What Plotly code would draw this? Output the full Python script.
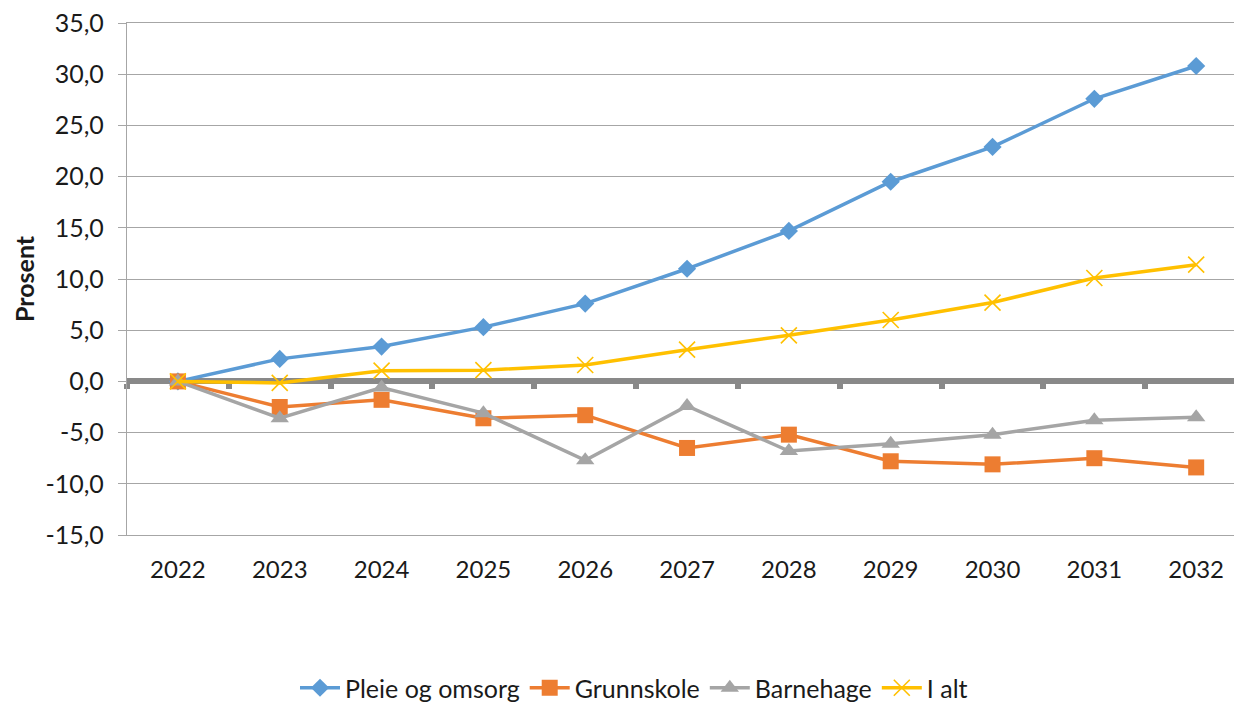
import plotly.graph_objects as go

years = ["2022", "2023", "2024", "2025", "2026", "2027", "2028", "2029", "2030", "2031", "2032"]
pleie = [0.0, 2.2, 3.4, 5.3, 7.6, 11.0, 14.7, 19.5, 22.9, 27.6, 30.8]
grunnskole = [0.0, -2.5, -1.8, -3.6, -3.3, -6.5, -5.2, -7.8, -8.1, -7.5, -8.4]
barnehage = [0.0, -3.6, -0.6, -3.1, -7.7, -2.4, -6.8, -6.1, -5.2, -3.8, -3.5]
i_alt = [0.0, -0.15, 1.05, 1.1, 1.6, 3.1, 4.5, 6.0, 7.7, 10.1, 11.4]

y_ticks = [-15, -10, -5, 0, 5, 10, 15, 20, 25, 30, 35]
y_range = [-15, 35.001]
y_labels = [f"{v:.1f}".replace(".", ",") for v in y_ticks]

FONT = "Lato"
TXT = "#1a1a1a"

fig = go.Figure()
series = [
    ("Pleie og omsorg", pleie, "#5B9BD5", "diamond", 14, 0),
    ("Grunnskole", grunnskole, "#ED7D31", "square", 16, 0),
    ("Barnehage", barnehage, "#A5A5A5", "triangle-up", 16, 0),
    ("I alt", i_alt, "#FFC000", "x-thin", 16, 1.6),
]
for name, vals, col, sym, size, lw in series:
    fig.add_trace(go.Scatter(
        x=years, y=vals, name=name, mode="lines+markers",
        line=dict(color=col, width=3.5),
        marker=dict(symbol=sym, size=size, color=col,
                    line=dict(color=col, width=lw)),
        cliponaxis=False,
    ))

zero_pos = (0 - y_range[0]) / (y_range[1] - y_range[0])
boundaries = [i - 0.5 for i in range(len(years) + 1)]

W, H = 1234, 694
L, T, B = 119, 15, 167
plot_w = W - L

fig.update_layout(
    width=W, height=H,
    margin=dict(l=L, r=0, t=T, b=B, autoexpand=False),
    paper_bgcolor="white", plot_bgcolor="white",
    font=dict(family=FONT, size=24, color=TXT),
    showlegend=True,
    legend=dict(orientation="h", xref="container", yref="container",
                x=(634 - 8) / W, xanchor="center",
                y=1 - (688 - 8) / H, yanchor="middle",
                font=dict(family=FONT, size=25, color=TXT), itemwidth=40,
                traceorder="normal"),
    xaxis=dict(type="category", range=[-0.5, 10.45], showgrid=False, zeroline=False,
               showline=True, mirror=True, linecolor="#A6A6A6", linewidth=1.3,
               ticks="outside", ticklen=13, tickcolor="rgba(0,0,0,0)",
               tickfont=dict(family=FONT, size=24, color=TXT)),
    xaxis2=dict(overlaying="x", anchor="free", position=zero_pos, side="bottom",
                type="linear", range=[-0.5, 10.45], showgrid=False, zeroline=False,
                showline=True, linecolor="#898989", linewidth=6, layer="below traces",
                tickmode="array", tickvals=boundaries, ticks="outside", ticklen=5,
                tickwidth=6, tickcolor="#898989", showticklabels=False),
    yaxis=dict(range=y_range, tickmode="array", tickvals=y_ticks, ticktext=y_labels,
               showgrid=True, gridcolor="#A6A6A6", gridwidth=1.3,
               zeroline=False,
               showline=True, linecolor="#A6A6A6", linewidth=1.3,
               ticks="outside", ticklen=8, tickcolor="#A6A6A6", tickwidth=1.3,
               ticklabelstandoff=9, ticklabeloverflow="allow",
               tickfont=dict(family=FONT, size=25, color=TXT)),
    annotations=[dict(text="<b>Prosent</b>", textangle=-90, xref="paper", yref="paper",
                      x=(16 - L) / plot_w, y=0.5, xanchor="center", yanchor="middle",
                      showarrow=False, font=dict(family=FONT, size=25, color=TXT))],
)

# invisible anchor trace so the zero-line axis is drawn
fig.add_trace(go.Scatter(x=[0], y=[0], xaxis="x2", mode="markers",
                         marker=dict(opacity=0), showlegend=False, hoverinfo="skip"))

fig.write_html("out.html")
